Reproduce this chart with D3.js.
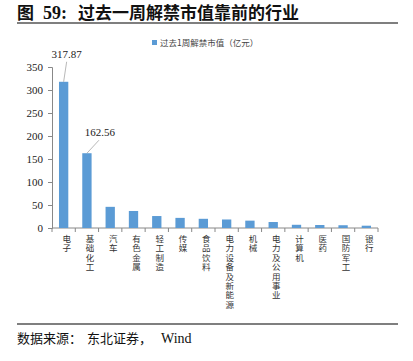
<!DOCTYPE html>
<html>
<head>
<meta charset="utf-8">
<script src="https://cdn.jsdelivr.net/npm/d3@7"></script>
<style>
  body { margin: 0; background: #fff; }
  svg { display: block; }
</style>
</head>
<body>
<svg width="413" height="361"></svg>
<script>
// data
const categories = ["电子", "基础化工", "汽车", "有色金属", "轻工制造", "传媒", "食品饮料",
    "电力设备及新能源", "机械", "电力及公用事业", "计算机", "医药", "国防军工", "银行"];
const values = [317.87, 162.56, 46, 37, 26, 22, 20, 18.5, 16, 13, 7, 6.5, 6, 5];
const yTicks = [0, 50, 100, 150, 200, 250, 300, 350];
const seriesName = "过去1周解禁市值（亿元）";
const labelled = [0, 1]; // bars that carry a value label

const data = categories.map((c, i) => ({ cat: c, value: values[i] }));

const svg = d3.select("svg");
const cjk = "'Noto Sans CJK SC', sans-serif";
const serif = "'Liberation Serif', 'Times New Roman', serif";

let margin = { top: 67, right: 35, bottom: 133, left: 52 },
    width = 413 - margin.left - margin.right,
    height = 361 - margin.top - margin.bottom;

// title
const title = svg.append("text")
    .attr("y", 18.5)
    .attr("font-family", cjk)
    .attr("font-weight", "bold")
    .attr("font-size", "17px")
    .attr("fill", "#111");
title.append("tspan").attr("x", 17).text("图");
title.append("tspan").attr("x", 43).attr("font-family", serif).attr("font-size", "18px").text("59:");
title.append("tspan").attr("x", 78).text("过去一周解禁市值靠前的行业");

svg.append("line")
    .attr("x1", 17).attr("x2", 398)
    .attr("y1", 23).attr("y2", 23)
    .attr("stroke", "#555").attr("stroke-width", 1.3);

svg.append("line")
    .attr("x1", 17).attr("x2", 398)
    .attr("y1", 324).attr("y2", 324)
    .attr("stroke", "#555").attr("stroke-width", 1.3);

const src = svg.append("text")
    .attr("y", 343)
    .attr("font-family", cjk)
    .attr("font-size", "13px")
    .attr("fill", "#111");
src.append("tspan").attr("x", 17).text("数据来源：");
src.append("tspan").attr("x", 87).text("东北证券，");
src.append("tspan").attr("x", 161).attr("font-family", serif).attr("font-size", "14px").text("Wind");

// legend
svg.append("rect")
    .attr("x", 152).attr("y", 40)
    .attr("width", 5).attr("height", 5)
    .attr("fill", "#5b9bd5");
svg.append("text")
    .attr("x", 160).attr("y", 46)
    .attr("font-family", cjk)
    .attr("font-size", "8.5px")
    .attr("fill", "#444")
    .text(seriesName);

const g = svg.append("g")
    .attr("transform", `translate(${margin.left}, ${margin.top})`);

const x = d3.scaleBand()
    .domain(categories)
    .range([0, width])
    .paddingInner(0.6)
    .paddingOuter(0.3);

const y = d3.scaleLinear()
    .domain([0, 350])
    .range([height, 0]);

// y axis
const yAxis = g.append("g")
    .call(d3.axisLeft(y).tickValues(yTicks).tickSize(4).tickPadding(5));
yAxis.select(".domain").attr("stroke", "#888");
yAxis.selectAll(".tick line").attr("stroke", "#888");
yAxis.selectAll("text")
    .attr("font-family", serif)
    .attr("font-size", "11px")
    .attr("fill", "#222");

// x axis: ticks on band boundaries
const xAxis = g.append("g").attr("transform", `translate(0, ${height})`);
xAxis.append("line")
    .attr("x1", 0).attr("x2", width)
    .attr("stroke", "#888");
xAxis.selectAll(".xt")
    .data(d3.range(categories.length + 1))
    .enter().append("line")
    .attr("class", "xt")
    .attr("x1", i => i * (width / categories.length))
    .attr("x2", i => i * (width / categories.length))
    .attr("y1", 0).attr("y2", 4)
    .attr("stroke", "#888");

// vertical category labels (stacked characters)
const labels = xAxis.selectAll(".xl")
    .data(data)
    .enter().append("text")
    .attr("class", "xl")
    .attr("font-family", cjk)
    .attr("font-size", "8.5px")
    .attr("fill", "#333")
    .attr("text-anchor", "middle");
labels.each(function (d) {
    const t = d3.select(this);
    Array.from(d.cat).forEach((ch, k) => {
        t.append("tspan")
            .attr("x", x(d.cat) + x.bandwidth() / 2 + 3)
            .attr("y", 14 + k * 9.4)
            .text(ch);
    });
});

// bars
g.selectAll(".bar")
    .data(data)
    .enter().append("rect")
    .attr("class", "bar")
    .attr("x", d => x(d.cat))
    .attr("y", d => y(d.value))
    .attr("width", x.bandwidth())
    .attr("height", d => height - y(d.value))
    .attr("fill", "#5b9bd5");

// value labels with leader lines
const lab = g.selectAll(".vl")
    .data(labelled.map(i => data[i]))
    .enter().append("g")
    .attr("class", "vl");

const offs = [{ dx: 3, dy: -20, tx: 3, ty: -24 }, { dx: 12, dy: -13, tx: 13, ty: -17 }];

lab.append("line")
    .attr("x1", d => x(d.cat) + x.bandwidth() / 2)
    .attr("y1", d => y(d.value))
    .attr("x2", (d, i) => x(d.cat) + x.bandwidth() / 2 + offs[i].dx)
    .attr("y2", (d, i) => y(d.value) + offs[i].dy)
    .attr("stroke", "#999").attr("stroke-width", 0.7);

lab.append("text")
    .attr("x", (d, i) => x(d.cat) + x.bandwidth() / 2 + offs[i].tx)
    .attr("y", (d, i) => y(d.value) + offs[i].ty)
    .attr("text-anchor", "middle")
    .attr("font-family", serif)
    .attr("font-size", "11px")
    .attr("fill", "#222")
    .text(d => d.value.toFixed(2));
</script>
</body>
</html>
